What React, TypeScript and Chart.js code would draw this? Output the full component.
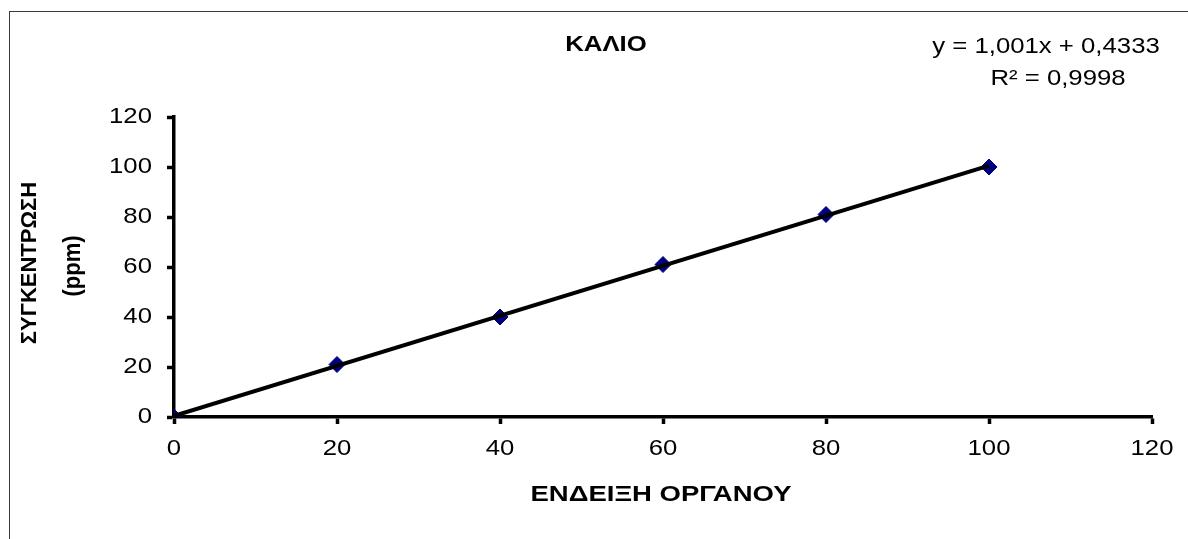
import React, { useEffect, useRef } from "react";
import { Chart, registerables } from "chart.js";

Chart.register(...registerables);

// Instrument reading vs. potassium concentration (calibration points)
const readings = [0, 20, 40, 60, 80, 100];
const concentrations = [0, 21, 40, 61, 81, 100];

// Linear trendline coefficients shown on the chart
const slope = 1.001;
const intercept = 0.4333;
const rSquared = 0.9998;

const axisMin = 0;
const axisMax = 120;
const axisStep = 20;

const chartTitle = "ΚΑΛΙΟ";
const xTitle = "ΕΝΔΕΙΞΗ ΟΡΓΑΝΟΥ";
const yTitleLines = ["ΣΥΓΚΕΝΤΡΩΣΗ", "(ppm)"];

const FONT = "'Liberation Sans', Arial, sans-serif";
const WIDEN = 1.17;

const comma = (v: number) => String(v).replace(".", ",");

const trendStart = Math.min(...readings);
const trendEnd = Math.max(...readings);
const trendPoints = [trendStart, trendEnd].map((x) => ({ x, y: slope * x + intercept }));

// Text drawn slightly widened, like the wide rendering of the original sheet fonts
function wideText(
  ctx: CanvasRenderingContext2D,
  text: string,
  x: number,
  y: number,
  sx: number
) {
  ctx.save();
  ctx.translate(x, y);
  ctx.scale(sx, 1);
  ctx.fillText(text, 0, 0);
  ctx.restore();
}

const annotations = {
  id: "annotations",
  beforeDraw(chart: any) {
    const { ctx } = chart;
    ctx.save();
    ctx.fillStyle = "#ffffff";
    ctx.fillRect(0, 0, chart.width, chart.height);
    ctx.strokeStyle = "#3a3a3a";
    ctx.lineWidth = 1;
    ctx.strokeRect(9.5, 11.5, chart.width + 20, chart.height + 20);
    ctx.restore();
  },
  afterDraw(chart: any) {
    const { ctx, chartArea, scales } = chart;
    ctx.save();
    ctx.fillStyle = "#000000";
    ctx.textBaseline = "middle";

    // tick labels, placed from the scales' own ticks
    ctx.font = `22px ${FONT}`;
    ctx.textAlign = "center";
    for (const t of scales.x.ticks) {
      wideText(ctx, String(t.value), scales.x.getPixelForValue(t.value), 449, WIDEN);
    }
    ctx.textAlign = "right";
    for (const t of scales.y.ticks) {
      wideText(ctx, String(t.value), 152, scales.y.getPixelForValue(t.value), WIDEN);
    }

    ctx.textAlign = "center";
    ctx.font = `bold 22px ${FONT}`;
    wideText(ctx, chartTitle, 606, 45, WIDEN);

    ctx.font = `22px ${FONT}`;
    wideText(ctx, `y = ${comma(slope)}x + ${comma(intercept)}`, 1046, 47, WIDEN);
    wideText(ctx, `R² = ${comma(rSquared)}`, 1058, 79, WIDEN);

    ctx.font = `bold 22px ${FONT}`;
    wideText(ctx, xTitle, 661, 495, 1.25);

    const cy = (chartArea.top + chartArea.bottom) / 2;
    ctx.save();
    ctx.translate(30, cy - 4);
    ctx.rotate(-Math.PI / 2);
    ctx.fillText(yTitleLines[0], 0, 0, 170);
    ctx.restore();
    ctx.save();
    ctx.translate(73, cy - 1);
    ctx.rotate(-Math.PI / 2);
    ctx.scale(1.0, 1.1);
    ctx.fillText(yTitleLines[1], 0, 0);
    ctx.restore();

    ctx.restore();
  },
};

export default function App() {
  const ref = useRef<HTMLCanvasElement | null>(null);

  useEffect(() => {
    if (!ref.current) return;
    const axisCommon = {
      type: "linear" as const,
      min: axisMin,
      max: axisMax,
      grid: {
        display: true,
        drawOnChartArea: false,
        drawTicks: true,
        tickLength: 7,
        tickWidth: 3.5,
        tickColor: "#000000",
      },
      border: { display: true, width: 3.5, color: "#000000" },
      ticks: {
        stepSize: axisStep,
        display: false,
      },
    };
    const chart = new Chart(ref.current, {
      type: "scatter",
      data: {
        datasets: [
          {
            type: "line",
            label: "trend",
            data: trendPoints,
            borderColor: "#000000",
            borderWidth: 4,
            pointRadius: 0,
            showLine: true,
            fill: false,
          },
          {
            label: "ΚΑΛΙΟ",
            data: readings.map((x, i) => ({ x, y: concentrations[i] })),
            pointStyle: "rectRot",
            pointRadius: 8,
            backgroundColor: "#000080",
            borderColor: "#000080",
            borderWidth: 1,
            showLine: false,
          },
        ],
      },
      options: {
        animation: false,
        responsive: false,
        devicePixelRatio: 1,
        layout: { padding: { top: 117, right: 36, left: 0, bottom: 0 } },
        plugins: {
          legend: { display: false },
          title: { display: false },
          tooltip: { enabled: false },
        },
        scales: {
          x: {
            ...axisCommon,
            position: "bottom",
            afterFit: (scale: any) => {
              scale.height = 539 - 417;
            },
          },
          y: {
            ...axisCommon,
            position: "left",
            afterFit: (scale: any) => {
              scale.width = 174;
            },
          },
        },
      },
      plugins: [annotations],
    });
    return () => chart.destroy();
  }, []);

  return (
    <canvas
      ref={ref}
      width={1188}
      height={539}
      style={{ position: "fixed", left: 0, top: 0, width: 1188, height: 539 }}
    />
  );
}
